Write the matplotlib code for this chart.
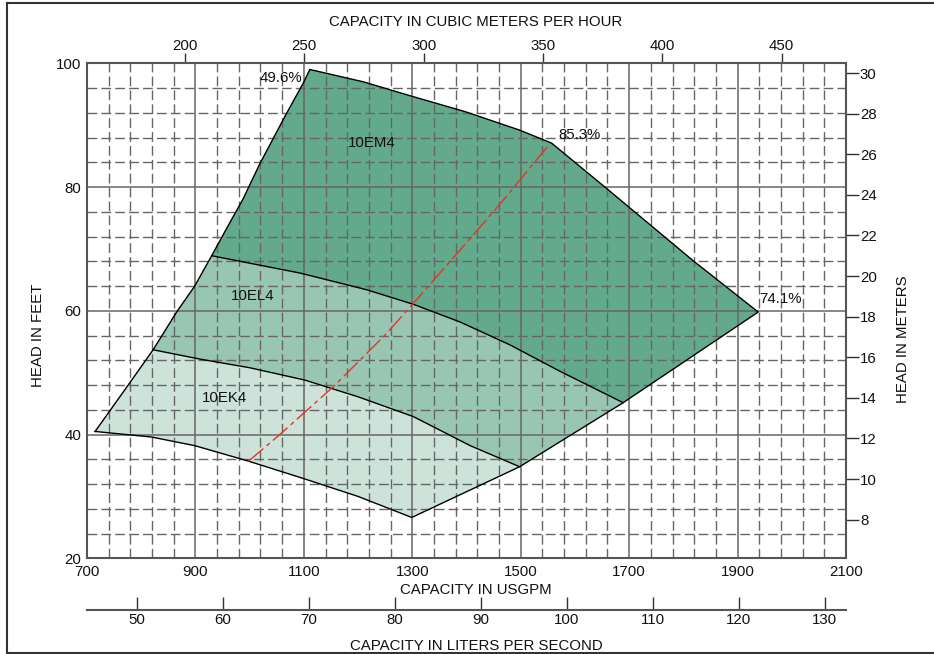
import numpy as np
import matplotlib
matplotlib.use('Agg')
import matplotlib.pyplot as plt
from matplotlib.lines import Line2D

plt.rcParams['font.family'] = ['Liberation Sans', 'DejaVu Sans']
plt.rcParams['font.size'] = 10.8
plt.rcParams['text.color'] = '#111111'
plt.rcParams['xtick.color'] = '#111111'
plt.rcParams['ytick.color'] = '#111111'

# ---- data (USGPM, feet) ----
# left envelope, split at the corners of the three ranges
left_ek_gpm = [715, 776, 822]
left_ek_ft = [40.5, 48.0, 53.7]
left_el_gpm = [866, 898, 930]
left_el_ft = [59.9, 63.9, 68.9]
left_em_gpm = [960, 988, 1019, 1068, 1099, 1111]
left_em_ft = [73.7, 78.1, 83.8, 91.9, 96.8, 99.0]

# top of 10EM4 and the right side down to the 74.1% point
top_gpm = [1210, 1302, 1397, 1498, 1557, 1658, 1818, 1938]
top_ft = [97.0, 94.6, 92.2, 89.2, 87.1, 79.8, 68.1, 59.8]

# lower right envelope (corners of EM4, EL4, EK4)
lowright_gpm = [1938, 1689, 1498, 1299]
lowright_ft = [59.8, 45.15, 34.8, 26.6]

# bottom of 10EK4, from right to left
bottom_gpm = [1299, 1200, 1099, 998, 899, 819, 715]
bottom_ft = [26.6, 30.0, 32.9, 35.7, 38.2, 39.6, 40.5]

# boundary between 10EL4 and 10EM4
el4_gpm = [930, 1093, 1216, 1302, 1388, 1480, 1573, 1689]
el4_ft = [68.9, 66.1, 63.4, 61.05, 58.2, 54.5, 50.2, 45.15]

# boundary between 10EK4 and 10EL4
ek4_gpm = [822, 908, 1000, 1102, 1200, 1302, 1407, 1498]
ek4_ft = [53.7, 52.2, 50.8, 48.8, 46.1, 42.9, 38.2, 34.8]

# best efficiency line
bep_gpm = [998, 1053, 1154, 1250, 1302, 1394, 1468, 1549]
bep_ft = [35.7, 39.8, 47.7, 56.1, 61.2, 70.4, 77.9, 86.5]

labels = ['10EM4', '10EL4', '10EK4']
label_gpm = [1225, 1005, 954]
label_ft = [87.1, 62.4, 45.9]
effs = ['49.6%', '85.3%', '74.1%']
eff_gpm = [1097, 1569, 1940]
eff_ft = [97.7, 88.4, 61.9]

colors = {'10EM4': '#63aa8c', '10EL4': '#99c6b3', '10EK4': '#cde3da'}

gpm_major = np.arange(700, 2101, 200)
ft_major = np.arange(20, 101, 20)
m3h_ticks = [200, 250, 300, 350, 400, 450]
m_ticks = np.arange(8, 31, 2)
ls_ticks = [50, 60, 70, 80, 90, 100, 110, 120, 130]

fig = plt.figure(figsize=(9.34, 6.54), dpi=100)
ax = fig.add_axes([87/934, 1-558.3/654, 759/934, 495/654])
ax.set_xlim(700, 2100)
ax.set_ylim(20, 100)

# polygons (painter's order: whole envelope, then below EL4 top, then below EK4 top)
env_x = np.concatenate([left_ek_gpm, left_el_gpm, left_em_gpm, top_gpm, lowright_gpm[1:], bottom_gpm[1:]])
env_y = np.concatenate([left_ek_ft, left_el_ft, left_em_ft, top_ft, lowright_ft[1:], bottom_ft[1:]])
ax.fill(env_x, env_y, color=colors['10EM4'], lw=0, zorder=1)

el_x = np.concatenate([left_ek_gpm, left_el_gpm[:-1], el4_gpm, lowright_gpm[2:], bottom_gpm[1:]])
el_y = np.concatenate([left_ek_ft, left_el_ft[:-1], el4_ft, lowright_ft[2:], bottom_ft[1:]])
ax.fill(el_x, el_y, color=colors['10EL4'], lw=0, zorder=1)

ek_x = np.concatenate([left_ek_gpm[:-1], ek4_gpm, lowright_gpm[3:], bottom_gpm[1:]])
ek_y = np.concatenate([left_ek_ft[:-1], ek4_ft, lowright_ft[3:], bottom_ft[1:]])
ax.fill(ek_x, ek_y, color=colors['10EK4'], lw=0, zorder=1)

ax.plot(np.append(env_x, env_x[0]), np.append(env_y, env_y[0]), color='black', lw=1, zorder=3)
ax.plot(el4_gpm, el4_ft, color='black', lw=1, zorder=3)
ax.plot(ek4_gpm, ek4_ft, color='black', lw=1, zorder=3)
ax.plot(bep_gpm, bep_ft, color='#e8302a', lw=1, zorder=3, dashes=(14, 3, 3, 3))

for t, x, y in zip(labels, label_gpm, label_ft):
    ax.text(x, y, t, ha='center', va='center', zorder=4)
ax.text(eff_gpm[0], eff_ft[0], effs[0], ha='right', va='center', zorder=4)
ax.text(eff_gpm[1], eff_ft[1], effs[1], ha='left', va='center', zorder=4)
ax.text(eff_gpm[2], eff_ft[2], effs[2], ha='left', va='center', zorder=4)

# grid
ax.set_xticks(gpm_major)
ax.set_yticks(ft_major)
ax.set_xticks(np.arange(700, 2101, 40), minor=True)
ax.set_yticks(np.arange(20, 101, 4), minor=True)
ax.grid(which='major', color='#666666', lw=1.1, ls='-')
ax.grid(which='minor', color='#666666', lw=1.0, ls=(0, (7, 3)))
ax.tick_params(which='both', length=0)
ax.tick_params(axis='x', pad=4.5)
ax.tick_params(axis='y', pad=4)
for s in ax.spines.values():
    s.set_color('#555555')
    s.set_linewidth(1.5)

# cubic meters per hour on top
top = ax.secondary_xaxis('top', functions=(lambda q: q*0.22712, lambda q: q/0.22712))
top.set_xticks(m3h_ticks)
top.tick_params(direction='out', length=7.2, width=1, pad=0.5, color='#333333')
top.spines['top'].set_visible(False)

# meters on the right
right = ax.secondary_yaxis('right', functions=(lambda h: h*0.3048, lambda h: h/0.3048))
right.set_yticks(m_ticks)
right.tick_params(direction='out', length=9, width=1, pad=1, color='#333333')
right.spines['right'].set_visible(False)

# liters per second below
bot = ax.secondary_xaxis(-0.1045, functions=(lambda q: q*0.0630902, lambda q: q/0.0630902))
bot.set_xticks(ls_ticks)
bot.tick_params(direction='in', length=9.5, width=1, pad=2, color='#333333')
bot.spines['bottom'].set_color('#555555')
bot.spines['bottom'].set_linewidth(1.5)

fig.text(476/934, 1-22/654, 'CAPACITY IN CUBIC METERS PER HOUR', ha='center', va='center')
fig.text(476/934, 1-590/654, 'CAPACITY IN USGPM', ha='center', va='center')
fig.text(476/934, 1-646/654, 'CAPACITY IN LITERS PER SECOND', ha='center', va='center')
fig.text(38/934, 1-335/654, 'HEAD IN FEET', ha='center', va='center', rotation=90)
fig.text(903/934, 1-339/654, 'HEAD IN METERS', ha='center', va='center', rotation=90)

# outer frame
frame_kw = dict(color='#333333', lw=1.5, transform=fig.transFigure)
fig.add_artist(Line2D([7/934, 1], [1-3/654, 1-3/654], **frame_kw))
fig.add_artist(Line2D([7/934, 7/934], [1-3/654, 1-653/654], **frame_kw))
fig.add_artist(Line2D([7/934, 1], [1-653/654, 1-653/654], **frame_kw))

fig.savefig('out.png', dpi=100)
